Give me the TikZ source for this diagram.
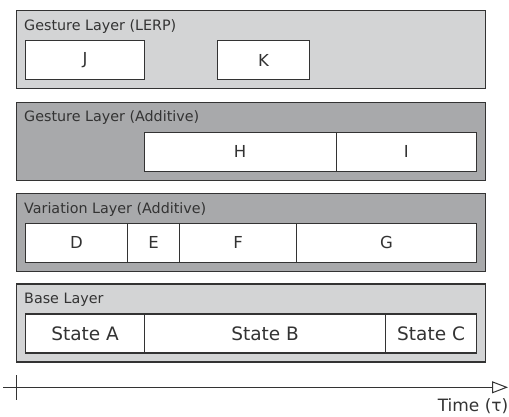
\documentclass[tikz,border=0pt]{standalone}
\usepackage{fontspec}
\setmainfont{DejaVu Sans}
\usetikzlibrary{arrows.meta}
\definecolor{lightfill}{RGB}{211,212,213}
\definecolor{darkfill}{RGB}{168,169,171}
\definecolor{ink}{RGB}{51,51,51}
\tikzset{
  layer/.style={draw=ink, line width=1.2pt, anchor=north west, inner sep=0pt,
    minimum width=469pt, minimum height=78pt},
  cell/.style={draw=ink, fill=white, line width=1.2pt, anchor=north west, inner sep=0pt,
    minimum height=39pt, text=ink, font=\fontsize{16.5}{18}\selectfont},
  statecell/.style={cell, font=\fontsize{18.5}{20}\selectfont},
  lbl/.style={anchor=base west, inner sep=0pt, text=ink, font=\fontsize{14.3}{16}\selectfont},
}
\begin{document}
\begin{tikzpicture}[x=1pt, y=-1pt]
\useasboundingbox (0,0) rectangle (509,416);
% Layer 1
\node[layer, fill=lightfill] (L1) at (16,10) {};
\node[lbl] (L1t) at (24,30.3) {Gesture Layer (LERP)};
\node[cell, minimum width=119pt] (J) at (25,40) {J};
\node[cell, minimum width=92pt] (K) at (217,40) {K};
% Layer 2
\node[layer, fill=darkfill] (L2) at (16,101.5) {};
\node[lbl] (L2t) at (24,121.8) {Gesture Layer (Additive)};
\node[cell, minimum width=192pt] (H) at (143.5,131.5) {H};
\node[cell, minimum width=140.5pt] (I) at (335.5,131.5) {I};
% Layer 3
\node[layer, fill=darkfill] (L3) at (16,192.7) {};
\node[lbl] (L3t) at (24,213) {Variation Layer (Additive)};
\node[cell, minimum width=102pt] (D) at (25,222.7) {D};
\node[cell, minimum width=52pt] (E) at (127,222.7) {E};
\node[cell, minimum width=117pt] (F) at (179,222.7) {F};
\node[cell, minimum width=180pt] (G) at (296,222.7) {G};
% Layer 4
\node[layer, fill=lightfill] (L4) at (16,283.3) {};
\node[lbl] (L4t) at (24,303.8) {Base Layer};
\node[statecell, minimum width=119pt] (SA) at (25,313.3) {State A};
\node[statecell, minimum width=241pt] (SB) at (144,313.3) {State B};
\node[statecell, minimum width=91pt] (SC) at (385,313.3) {State C};
% Time axis
\coordinate (ax0) at (3,387.3);
\coordinate (ax1) at (508,387.3);
\coordinate (tk0) at (16,375);
\coordinate (tk1) at (16,400);
\draw[ink, line width=1pt, -{Triangle[open, length=16pt, width=12pt, line width=1pt]}] (ax0) -- (ax1);
\draw[ink, line width=1pt] (tk0) -- (tk1);
\node[anchor=base east, inner sep=0pt, text=ink, font=\fontsize{17}{19}\selectfont] (time) at (508.5,411.5) {Time (τ)};
\end{tikzpicture}
\end{document}
